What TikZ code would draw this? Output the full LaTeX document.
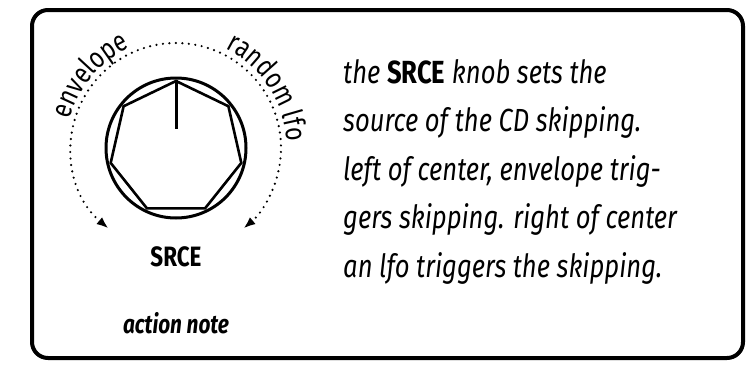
\documentclass[tikz,border=0pt]{standalone}
\usepackage{fontspec}
\setmainfont[FakeStretch=0.8]{Fira Sans}
\usetikzlibrary{arrows.meta,positioning,calc,shapes.geometric,decorations.text}
\newcommand\arclabelfont{\fontsize{29}{29}\selectfont}

\begin{document}
\begin{tikzpicture}[x=1pt,y=1pt,>={Latex[length=12pt,width=9pt]}]
  \useasboundingbox (0,0) rectangle (754,-367);
  \draw[line width=4pt,rounded corners=16pt] (32,-10) rectangle (743,-358);
  % the knob
  \node[circle,draw,line width=3pt,minimum size=140pt,inner sep=0pt] (knob) at (176,-148) {};
  \node[regular polygon,regular polygon sides=7,draw,line width=2.6pt,minimum size=134pt,inner sep=0pt] (hepta) at (knob.center) {};
  \coordinate[below=49pt of hepta.corner 1] (tick);
  \draw[line width=3pt] (hepta.corner 1) -- (tick);
  % range of the knob
  \draw[<->,line width=2.4pt,line cap=round,dash pattern=on 0pt off 6.5pt] ($(knob.center)+(230:105)$) arc[start angle=230,end angle=-50,radius=105];
  \path[decorate,decoration={text along path,text align=center,text={|\arclabelfont|envelope}}]
    ($(knob.center)+(178:110)$) arc[start angle=178,end angle=102,radius=110];
  \path[decorate,decoration={text along path,text align=center,text={|\arclabelfont|random lfo}}]
    ($(knob.center)+(78:111)$) arc[start angle=78,end angle=-11,radius=111];
  \node[font=\bfseries\fontsize{28}{28}\selectfont] (srce) at (176,-257) {SRCE};
  \node[font=\bfseries\itshape\fontsize{26}{26}\selectfont] (note) at (176,-323) {action note};
  % description
  \node[anchor=north west,align=left,inner sep=0pt,font=\itshape\fontsize{32}{48.5}\selectfont] (desc) at (343,-59)
    {the \textbf{\upshape SRCE} knob sets the\\
     source of the CD skipping.\\
     left of center, envelope trig-\\
     gers skipping. right of center\\
     an lfo triggers the skipping.};
\end{tikzpicture}
\end{document}
